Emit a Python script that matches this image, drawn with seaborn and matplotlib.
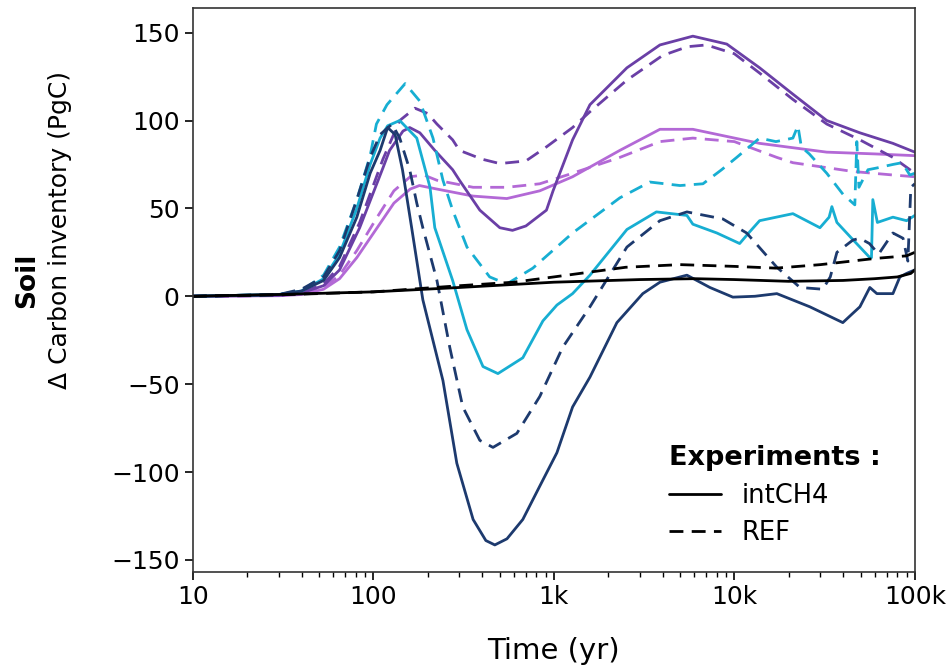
import numpy as np
import pandas as pd
import matplotlib
matplotlib.use("Agg")
import matplotlib.pyplot as plt
import seaborn as sns
from matplotlib.lines import Line2D
from matplotlib.ticker import FixedLocator, LogLocator, NullFormatter

# time axis (yr) and soil carbon anomaly (PgC)
t_bk_int = [10, 30, 100, 300, 1000, 3000, 6000, 10000, 20000, 40000, 60000, 80000, 95000, 100000]
bk_int = [0, 1, 2.5, 5, 8, 9.5, 10, 9.5, 8.5, 9, 10, 11, 13, 15]
t_bk_ref = [10, 30, 100, 300, 600, 1000, 2500, 5000, 10000, 17000, 30000, 60000, 90000, 100000]
bk_ref = [0, 0.8, 2.5, 6, 8, 11, 16.5, 18, 17, 16, 18, 21.5, 23, 25]

t_nv_int = [10, 30, 40, 53, 65, 81, 96, 109, 120, 132, 145, 163, 188, 243, 290, 357, 420,
            471, 550, 673, 836, 1040, 1270, 1585, 2235, 3110, 3870, 5460, 7320, 9810, 13000,
            17200, 26200, 39900, 45000, 49600, 56300, 61600, 75600, 82600, 90000, 100000]
nv_int = [0, 1, 3, 9, 22, 45, 70, 83, 96, 92, 72, 39, -2, -48, -95, -127, -139,
          -141.5, -138, -127, -108, -89, -63, -46, -15, 1.5, 8, 12, 5, -0.5, 0,
          1.5, -6, -15, -10, -6, 5, 1.5, 1.5, 11, 13, 15]
t_nv_ref = [10, 30, 40, 53, 65, 81, 96, 109, 127, 140, 159, 174, 188, 225, 265, 313, 389,
            460, 624, 836, 1120, 1585, 2540, 3870, 5460, 8630, 11700, 17200, 23100, 30900,
            34000, 37000, 45400, 49600, 56000, 63000, 75600, 86000, 91500, 95000, 100000]
nv_ref = [0, 1, 4, 11, 26, 55, 79, 92, 98, 90, 72, 53, 39, 9, -29, -63, -82,
          -86, -78, -57, -29, -6, 28, 43, 48, 44, 36, 16.5, 5, 4,
          11, 25, 32, 33, 30, 24, 36, 33, 20, 62, 64]

t_cy_int = [10, 30, 40, 53, 65, 81, 96, 109, 120, 140, 174, 206, 219, 275, 330, 405, 490,
            673, 870, 1040, 1270, 1585, 2540, 3700, 5460, 5890, 8000, 10700, 12000, 13800,
            21100, 29800, 33500, 34700, 37000, 43700, 56300, 57500, 58500, 62000, 75600,
            90000, 100000]
cy_int = [0, 1, 3, 10, 24, 50, 75, 90, 97, 100, 90, 62, 39, 9, -19, -40, -44,
          -35, -14, -5, 1.5, 12, 38, 48, 46, 41, 36, 30, 36, 43,
          47, 39, 45, 51, 42, 34, 22, 22, 55, 42, 45, 43, 46]
t_cy_ref = [10, 30, 40, 53, 65, 81, 96, 104, 119, 150, 181, 214, 243, 275, 330, 441, 549,
            765, 1270, 2320, 3400, 5000, 6700, 8500, 10300, 13800, 17000, 21100, 22500,
            23500, 26000, 32500, 40000, 46500, 47700, 49000, 55000, 61600, 75600, 85000,
            93800, 100000]
cy_ref = [0, 1, 3, 12, 28, 55, 80, 98, 109, 121, 111, 90, 66, 49, 28, 11, 7,
          16, 36, 56, 65, 63, 64, 72, 79, 90, 88, 90, 97,
          85, 81, 70, 58, 52, 88, 62, 72, 73, 75, 76,
          69, 70]

t_pu_int = [10, 30, 40, 53, 65, 84, 113, 123, 146, 159, 181, 219, 275, 300, 389, 502, 590,
            700, 910, 990, 1270, 1585, 2540, 3870, 5890, 9080, 13800, 21100, 32500, 49600,
            75600, 100000]
pu_int = [0, 0.5, 2, 6, 15, 39, 73, 83, 94, 96, 93, 83, 72, 66, 49, 39, 37.5,
          40, 49, 60, 89, 109, 130, 143, 148, 143.5, 130, 115, 100, 93,
          87, 82]
t_pu_ref = [10, 30, 40, 53, 65, 84, 113, 140, 170, 200, 225, 275, 300, 400, 502, 700, 910,
            1270, 1585, 2540, 4000, 5500, 7000, 10000, 13800, 21100, 32500, 49600, 75600,
            100000]
pu_ref = [0, 0.5, 2, 7, 17, 42, 78, 100, 107, 104, 98, 89, 83, 78, 75.5, 77, 85,
          96, 105, 123, 137, 142, 143, 138, 127, 112, 98, 89, 79,
          70]

t_or_int = [10, 30, 40, 53, 65, 81, 105, 130, 160, 180, 225, 357, 549, 836, 1270, 2320,
            3870, 5890, 13800, 32500, 60000, 100000]
or_int = [0, 0.3, 1, 4, 10, 22, 39, 53, 61, 63, 61, 57, 55.6, 60, 68, 83,
          95, 95, 87, 82, 81, 80]
t_or_ref = [10, 30, 40, 53, 65, 81, 105, 130, 160, 190, 225, 357, 549, 836, 1270, 2320,
            3870, 5890, 10000, 17200, 21100, 45400, 75600, 100000]
or_ref = [0, 0.4, 1.5, 5, 12, 26, 45, 60, 68, 69, 66, 62, 62, 64, 70, 79,
          88, 90, 88, 79, 76, 71, 69, 68]

x_ticks = [10, 100, 1000, 10000, 100000]
x_ticklabels = ["10", "100", "1k", "10k", "100k"]
y_ticks = [-150, -100, -50, 0, 50, 100, 150]

colors = {"orchid": "#b369d6", "purple": "#6a3fa6", "cyan": "#17aed2",
          "navy": "#1d3a6e", "black": "#000000"}

series = [
    ("orchid", "intCH4", t_or_int, or_int), ("orchid", "REF", t_or_ref, or_ref),
    ("purple", "intCH4", t_pu_int, pu_int), ("purple", "REF", t_pu_ref, pu_ref),
    ("cyan", "intCH4", t_cy_int, cy_int), ("cyan", "REF", t_cy_ref, cy_ref),
    ("navy", "intCH4", t_nv_int, nv_int), ("navy", "REF", t_nv_ref, nv_ref),
    ("black", "intCH4", t_bk_int, bk_int), ("black", "REF", t_bk_ref, bk_ref),
]
frames = []
for run, exp, t, v in series:
    frames.append(pd.DataFrame({"time": t, "carbon": v, "run": run, "exp": exp}))
df = pd.concat(frames, ignore_index=True)

sns.set_style("ticks", {"text.color": "black", "axes.labelcolor": "black",
                        "xtick.color": "black", "ytick.color": "black"})
plt.rcParams["font.family"] = ["DejaVu Sans"]

fig = plt.figure(figsize=(9.5, 6.7), dpi=100)
ax = fig.add_axes([0.203, 0.146, 0.76, 0.842])

sns.lineplot(data=df, x="time", y="carbon", hue="run", style="exp",
             hue_order=list(colors.keys()), palette=colors,
             dashes={"intCH4": "", "REF": (5, 3)}, estimator=None, sort=False,
             linewidth=2.0, legend=False, ax=ax)

ax.set_xscale("log")
ax.set_xlim(10, 100000)
ax.set_ylim(-157, 164)
ax.xaxis.set_major_locator(FixedLocator(x_ticks))
ax.set_xticklabels(x_ticklabels)
ax.xaxis.set_minor_locator(LogLocator(base=10, subs=np.arange(2, 10)))
ax.xaxis.set_minor_formatter(NullFormatter())
ax.set_yticks(y_ticks)
ax.tick_params(axis="both", which="major", labelsize=18, length=6, width=1.2)
ax.tick_params(axis="x", which="minor", length=3.5, width=1.0)
for sp in ax.spines.values():
    sp.set_linewidth(1.2)
    sp.set_color("#333333")

ax.set_xlabel("Time (yr)", fontsize=21, labelpad=20)
ax.set_ylabel("")
ax.text(-0.184, 0.606, "Δ Carbon inventory (PgC)", transform=ax.transAxes, rotation=90,
        fontsize=18, ha="center", va="center")
ax.text(-0.23, 0.518, "Soil", transform=ax.transAxes, rotation=90, fontsize=19,
        fontweight="bold", ha="center", va="center")

handles = [Line2D([], [], color="black", lw=2.0, ls="-"),
           Line2D([], [], color="black", lw=2.0, ls=(0, (5, 3)))]
leg = ax.legend(handles, ["intCH4", "REF"], title="Experiments :", loc="lower left",
                frameon=False, fontsize=18.5, handlelength=2.0, labelspacing=0.45,
                alignment="left", bbox_to_anchor=(0.628, 0.005))
leg.get_title().set_fontweight("bold")
leg.get_title().set_fontsize(19.5)

fig.savefig("out.png", dpi=100)
